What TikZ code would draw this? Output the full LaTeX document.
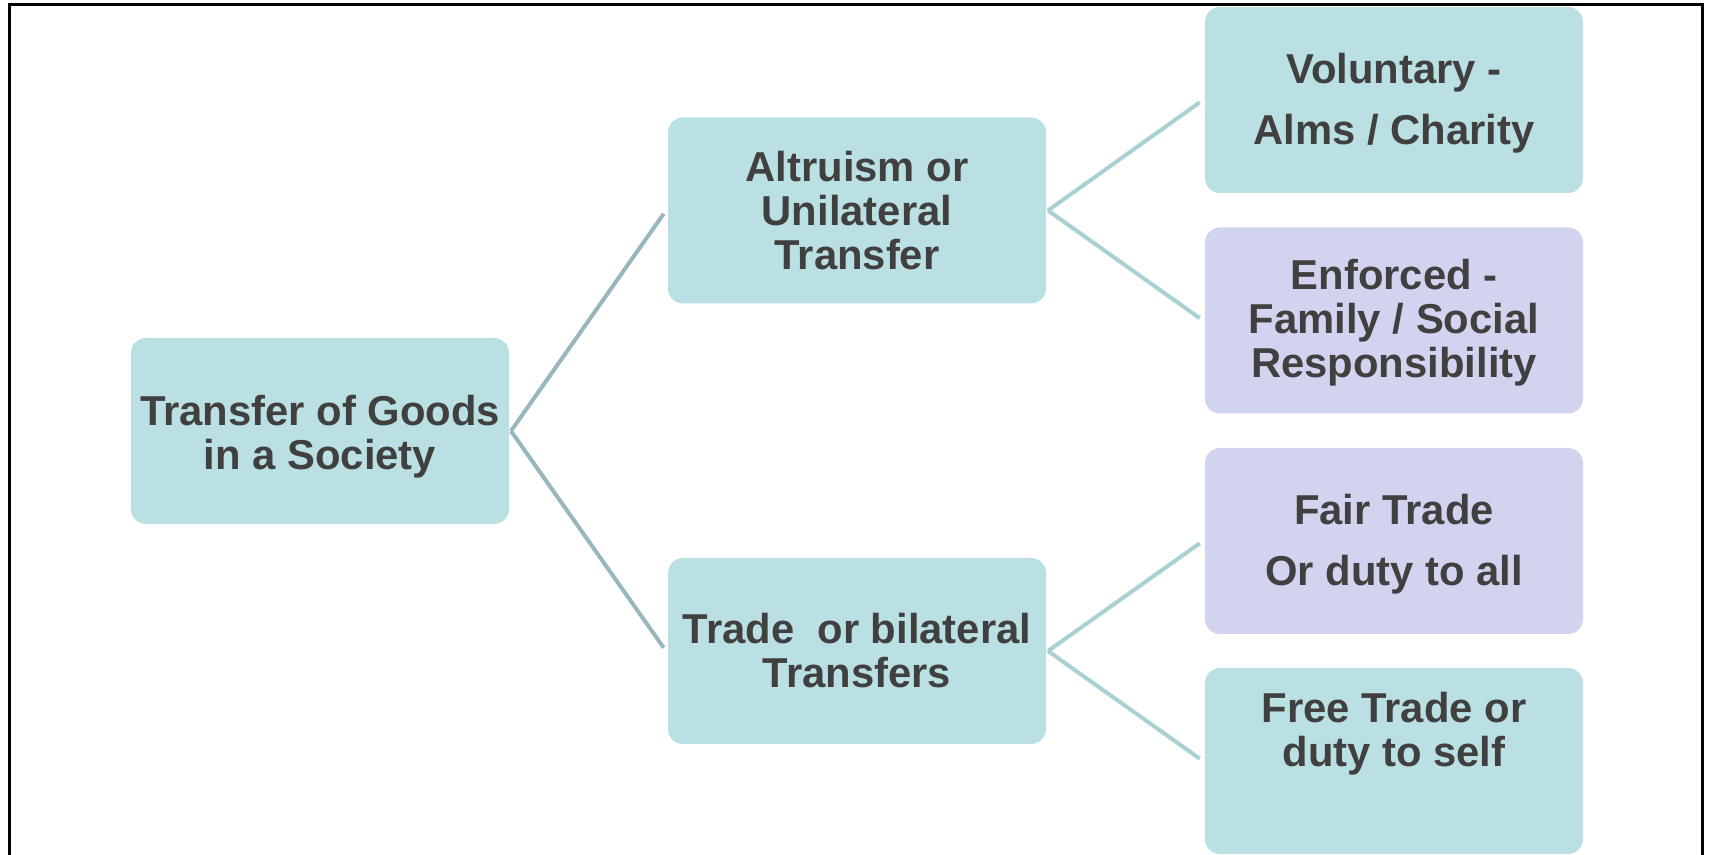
\documentclass[tikz,border=0pt]{standalone}
\usepackage{fontspec}
\setmainfont{Liberation Sans}
\definecolor{tealfill}{HTML}{BAE0E3}
\definecolor{lavfill}{HTML}{D2D3EF}
\definecolor{txt}{HTML}{404040}
\definecolor{trunkline}{HTML}{99B7BA}
\definecolor{branchline}{HTML}{A9D0D2}
% strut that lowers the first line of a box by a little
\newcommand{\firstline}[1]{\rule{0pt}{#1}}
\begin{document}
\begin{tikzpicture}[x=0.5pt,y=-0.5pt,
  box/.style={rectangle, rounded corners=7.5pt, minimum width=189pt,
    minimum height=93pt, inner sep=0pt, outer sep=1pt, align=center,
    text=txt, font=\fontsize{20.9pt}{22pt}\selectfont\bfseries},
  tealbox/.style={box, fill=tealfill},
  lavbox/.style={box, fill=lavfill},
  trunk/.style={draw=trunkline, line width=2pt, shorten >=2pt},
  branch/.style={draw=branchline, line width=2pt, shorten >=2pt}]
\useasboundingbox (0,0) rectangle (1710,855);

% frame
\draw[line width=1.5pt] (9,855) -- (9,5) -- (1702,5) -- (1702,855);

% first level
\node[tealbox] (root) at (320,431) {\firstline{20.5pt}Transfer of Goods\\in a Society};

% second level
\node[tealbox] (alt) at (857,210.5) {Altruism or\\Unilateral\\Transfer};
\node[tealbox] (trade) at (857,651) {Trade\ \ or bilateral\\Transfers};

% third level
\node[tealbox] (vol) at (1394,100) {\firstline{18.6pt}Voluntary -\\[8.5pt]Alms / Charity};
\node[lavbox] (enf) at (1394,320.5) {\firstline{17.6pt}Enforced -\\Family / Social\\Responsibility};
\node[lavbox] (fair) at (1394,541) {\firstline{18.6pt}Fair Trade\\[8.5pt]Or duty to all};
\node[tealbox] (free) at (1394,761) {Free Trade or\\duty to self\\[10pt]\mbox{}};

% connectors
\draw[trunk] (root.east) -- (alt.west);
\draw[trunk] (root.east) -- (trade.west);
\draw[branch] (alt.east) -- (vol.west);
\draw[branch] (alt.east) -- (enf.west);
\draw[branch] (trade.east) -- (fair.west);
\draw[branch] (trade.east) -- (free.west);
\end{tikzpicture}
\end{document}
